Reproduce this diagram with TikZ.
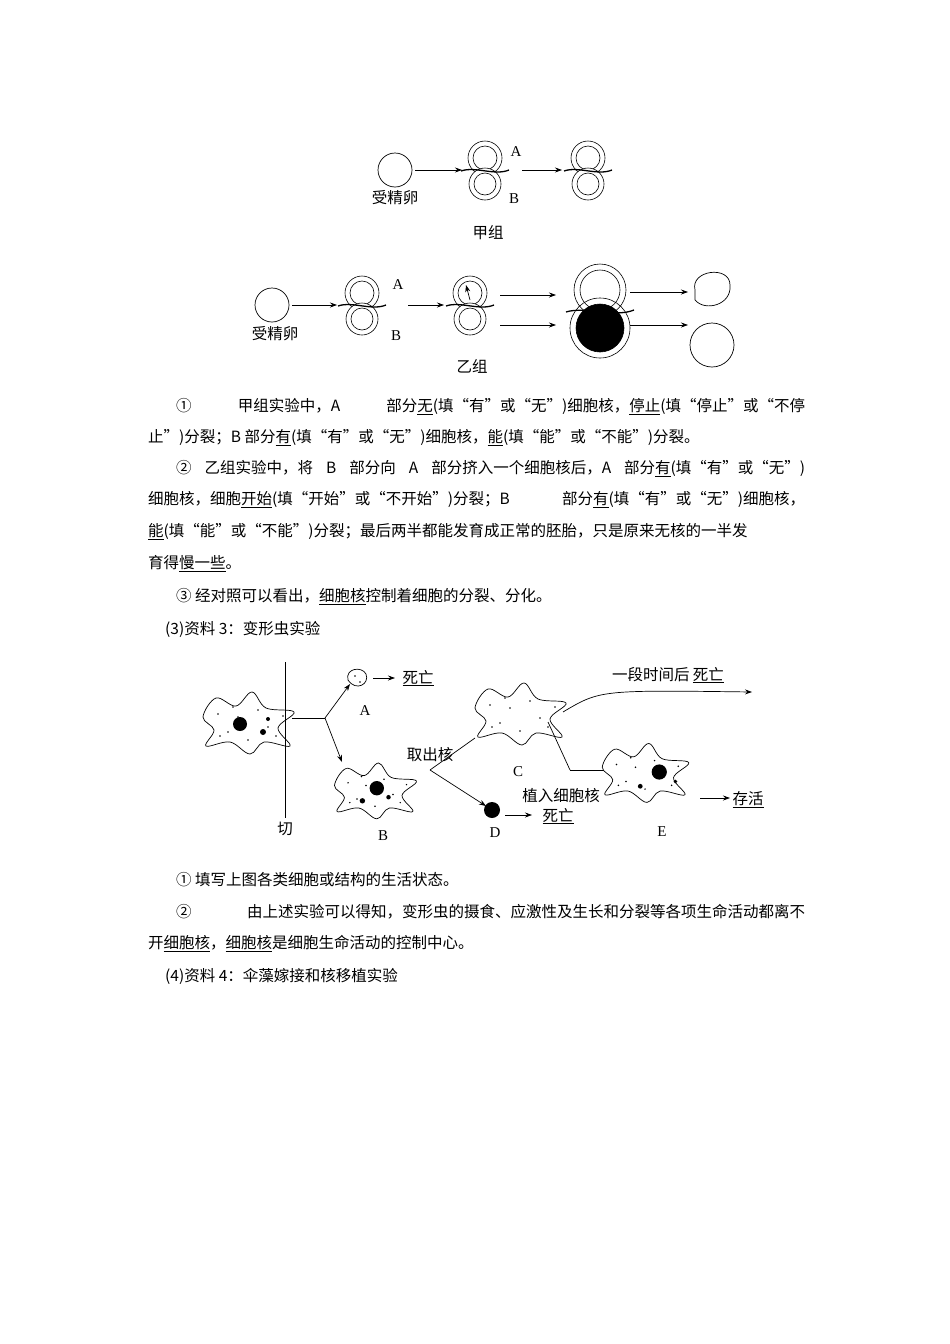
\documentclass[tikz,border=0pt]{standalone}
\usepackage{fontspec}
\setmainfont{Liberation Serif}
\newfontfamily\cjk{Noto Sans CJK SC}
\XeTeXlinebreaklocale "zh"
\XeTeXlinebreakskip=0pt plus 2pt
\usetikzlibrary{arrows.meta}
\begin{document}
\begin{tikzpicture}[x=1pt,y=-1pt,
  txt/.style={anchor=west,inner sep=0pt,font=\cjk\fontsize{15.5}{16}\selectfont},
  lbl/.style={inner sep=0pt,font=\cjk\fontsize{15.5}{16}\selectfont},
  let/.style={inner sep=0pt,font=\fontsize{15}{16}\selectfont},
  arr/.style={-{Stealth[length=7pt,width=5pt]},line width=0.7pt},
  ln/.style={line width=0.7pt}]
\useasboundingbox[fill=white] (0,0) rectangle (950,1344);
\newcommand{\ul}[1]{\underline{#1}}
\newcommand{\fl}[2]{\makebox[#1pt][s]{#2}}
\newcommand{\emb}[2]{%
 \begin{scope}[shift={(#1,#2)},line width=0.6pt]
  \draw (0,-12) circle (17); \draw (0,-12) circle (12);
  \draw[fill=white] (0,14) circle (16); \draw (0,14) circle (11);
  \draw[line width=1.3pt] (-24,1) .. controls (-10,-4) and (10,6) .. (24,0);
 \end{scope}}
\newcommand{\amoeba}[4]{%
 \begin{scope}[shift={(#1,#2)},scale=#3]
  \draw[line width=0.7pt,fill=white] plot[smooth cycle,tension=0.6] coordinates
   {(-45,-5)(-32,-24)(-12,-16)(4,-30)(18,-14)(46,-10)(30,6)(42,24)(16,20)(2,32)(-18,20)(-42,24)(-34,8)};
  \foreach \p in {(-30,-8),(-20,10),(-10,-5),(10,-12),(20,5),(-28,14),(28,14),(0,18),(-15,-15),(35,-6)}
   \fill \p circle (0.9);
  #4
 \end{scope}}
% ===== 甲组 =====
\draw[ln] (395,170) circle (17);
\node[lbl] (a1) at (395,198) {受精卵};
\draw[arr] (415,170) -- (462,170);
\emb{485}{170}
\node[let] (aA) at (516,152) {A};
\node[let] (aB) at (514,199) {B};
\draw[arr] (522,170) -- (562,170);
\emb{588}{170}
\node[lbl] (jia) at (488,233) {甲组};
% ===== 乙组 =====
\draw[ln] (272,305) circle (17);
\node[lbl] (b1) at (275,334) {受精卵};
\draw[arr] (292,305) -- (337,305);
\emb{362}{305}
\node[let] (bA) at (398,285) {A};
\node[let] (bB) at (396,336) {B};
\draw[arr] (408,305) -- (444,305);
\emb{470}{305}
\draw[arr] (470,300) -- (466,285);
\draw[arr] (500,295) -- (556,295);
\draw[arr] (500,325) -- (556,325);
\begin{scope}[line width=0.6pt]
 \draw (600,290) circle (26); \draw (600,290) circle (20);
 \draw[fill=black] (600,328) circle (24);
 \draw (600,328) circle (30);
 \draw[line width=1.3pt] (566,312) .. controls (585,306) and (615,318) .. (634,310);
\end{scope}
\draw[arr] (630,292) -- (688,292);
\draw[arr] (630,325) -- (688,325);
\draw[ln] (695,290) .. controls (690,270) and (730,265) .. (730,285) .. controls (732,305) and (705,312) .. (695,300) -- cycle;
\draw[ln] (712,345) circle (22);
\node[lbl] (yi) at (472,366) {乙组};
% ===== 文字 =====
\node[txt] (t1) at (176,407) {\fl{629}{① 甲组实验中，A 部分\ul{无}(填“有”或“无”)细胞核，\ul{停止}(填“停止”或“不停}};
\node[txt] (t2) at (148,438) {止”)分裂；B 部分\ul{有}(填“有”或“无”)细胞核，\ul{能}(填“能”或“不能”)分裂。};
\node[txt] (t3) at (176,469) {\fl{629}{② 乙组实验中，将 B 部分向 A 部分挤入一个细胞核后，A 部分\ul{有}(填“有”或“无”)}};
\node[txt] (t4) at (148,500) {\fl{657}{细胞核，细胞\ul{开始}(填“开始”或“不开始”)分裂；B 部分\ul{有}(填“有”或“无”)细胞核，}};
\node[txt] (t5) at (148,532) {\fl{657}{\ul{能}(填“能”或“不能”)分裂；最后两半都能发育成正常的胚胎，只是原来无核的一半发}};
\node[txt] (t6) at (148,564) {育得\ul{慢一些}。};
\node[txt] (t7) at (176,597) {③ 经对照可以看出，\ul{细胞核}控制着细胞的分裂、分化。};
\node[txt] (t8) at (165,629) {(3)资料 3：变形虫实验};
% ===== 变形虫 =====
\amoeba{248}{722}{1}{\fill (-8,2) circle (7); \fill (15,10) circle (3); \fill (20,-3) circle (2);}
\draw[ln] (285,662) -- (285,818);
\node[lbl] (qie) at (285,829) {切};
\draw[ln] (292,718) -- (325,718);
\draw[arr] (325,718) -- (350,684);
\draw[arr] (325,718) -- (342,762);
\draw[ln,fill=white] (348,680) .. controls (345,668) and (362,666) .. (366,674) .. controls (370,684) and (356,692) .. cycle;
\foreach \p in {(355,676),(360,682)} \fill \p circle (0.9);
\node[let] (A) at (365,711) {A};
\draw[arr] (373,678) -- (395,678);
\node[lbl] (dA) at (418,678) {\ul{死亡}};
\amoeba{375}{790}{0.9}{\fill (2,-2) circle (8); \fill (-14,12) circle (3); \fill (15,8) circle (2.5);}
\node[let] (B) at (383,836) {B};
\node[lbl] (qu) at (430,755) {取出核};
\draw[ln] (430,770) -- (475,738);
\draw[arr] (430,770) -- (486,806);
\amoeba{520}{713}{1}{}
\node[let] (C) at (518,772) {C};
\fill (492,810) circle (8);
\node[let] (D) at (495,833) {D};
\draw[arr] (505,815) -- (532,815);
\node[lbl] (dD) at (558,816) {\ul{死亡}};
\draw[arr] (563,712) .. controls (600,690) .. (752,692);
\node[lbl] (dC) at (668,675) {一段时间后 \ul{死亡}};
\draw[ln] (548,722) -- (570,770);
\draw[arr] (570,770) -- (662,770);
\node[lbl] (zhi) at (561,796) {植入细胞核};
\amoeba{645}{772}{0.95}{\fill (15,0) circle (8); \fill (-5,15) circle (2.5); \fill (32,10) circle (2);}
\node[let] (E) at (662,832) {E};
\draw[arr] (700,798) -- (730,798);
\node[lbl] (cun) at (748,800) {\ul{存活}};
% ===== 文字 =====
\node[txt] (t9) at (176,880) {① 填写上图各类细胞或结构的生活状态。};
\node[txt] (t10) at (176,912) {\fl{629}{② 由上述实验可以得知，变形虫的摄食、应激性及生长和分裂等各项生命活动都离不}};
\node[txt] (t11) at (148,944) {开\ul{细胞核}，\ul{细胞核}是细胞生命活动的控制中心。};
\node[txt] (t12) at (165,976) {(4)资料 4：伞藻嫁接和核移植实验};
\end{tikzpicture}
\end{document}
